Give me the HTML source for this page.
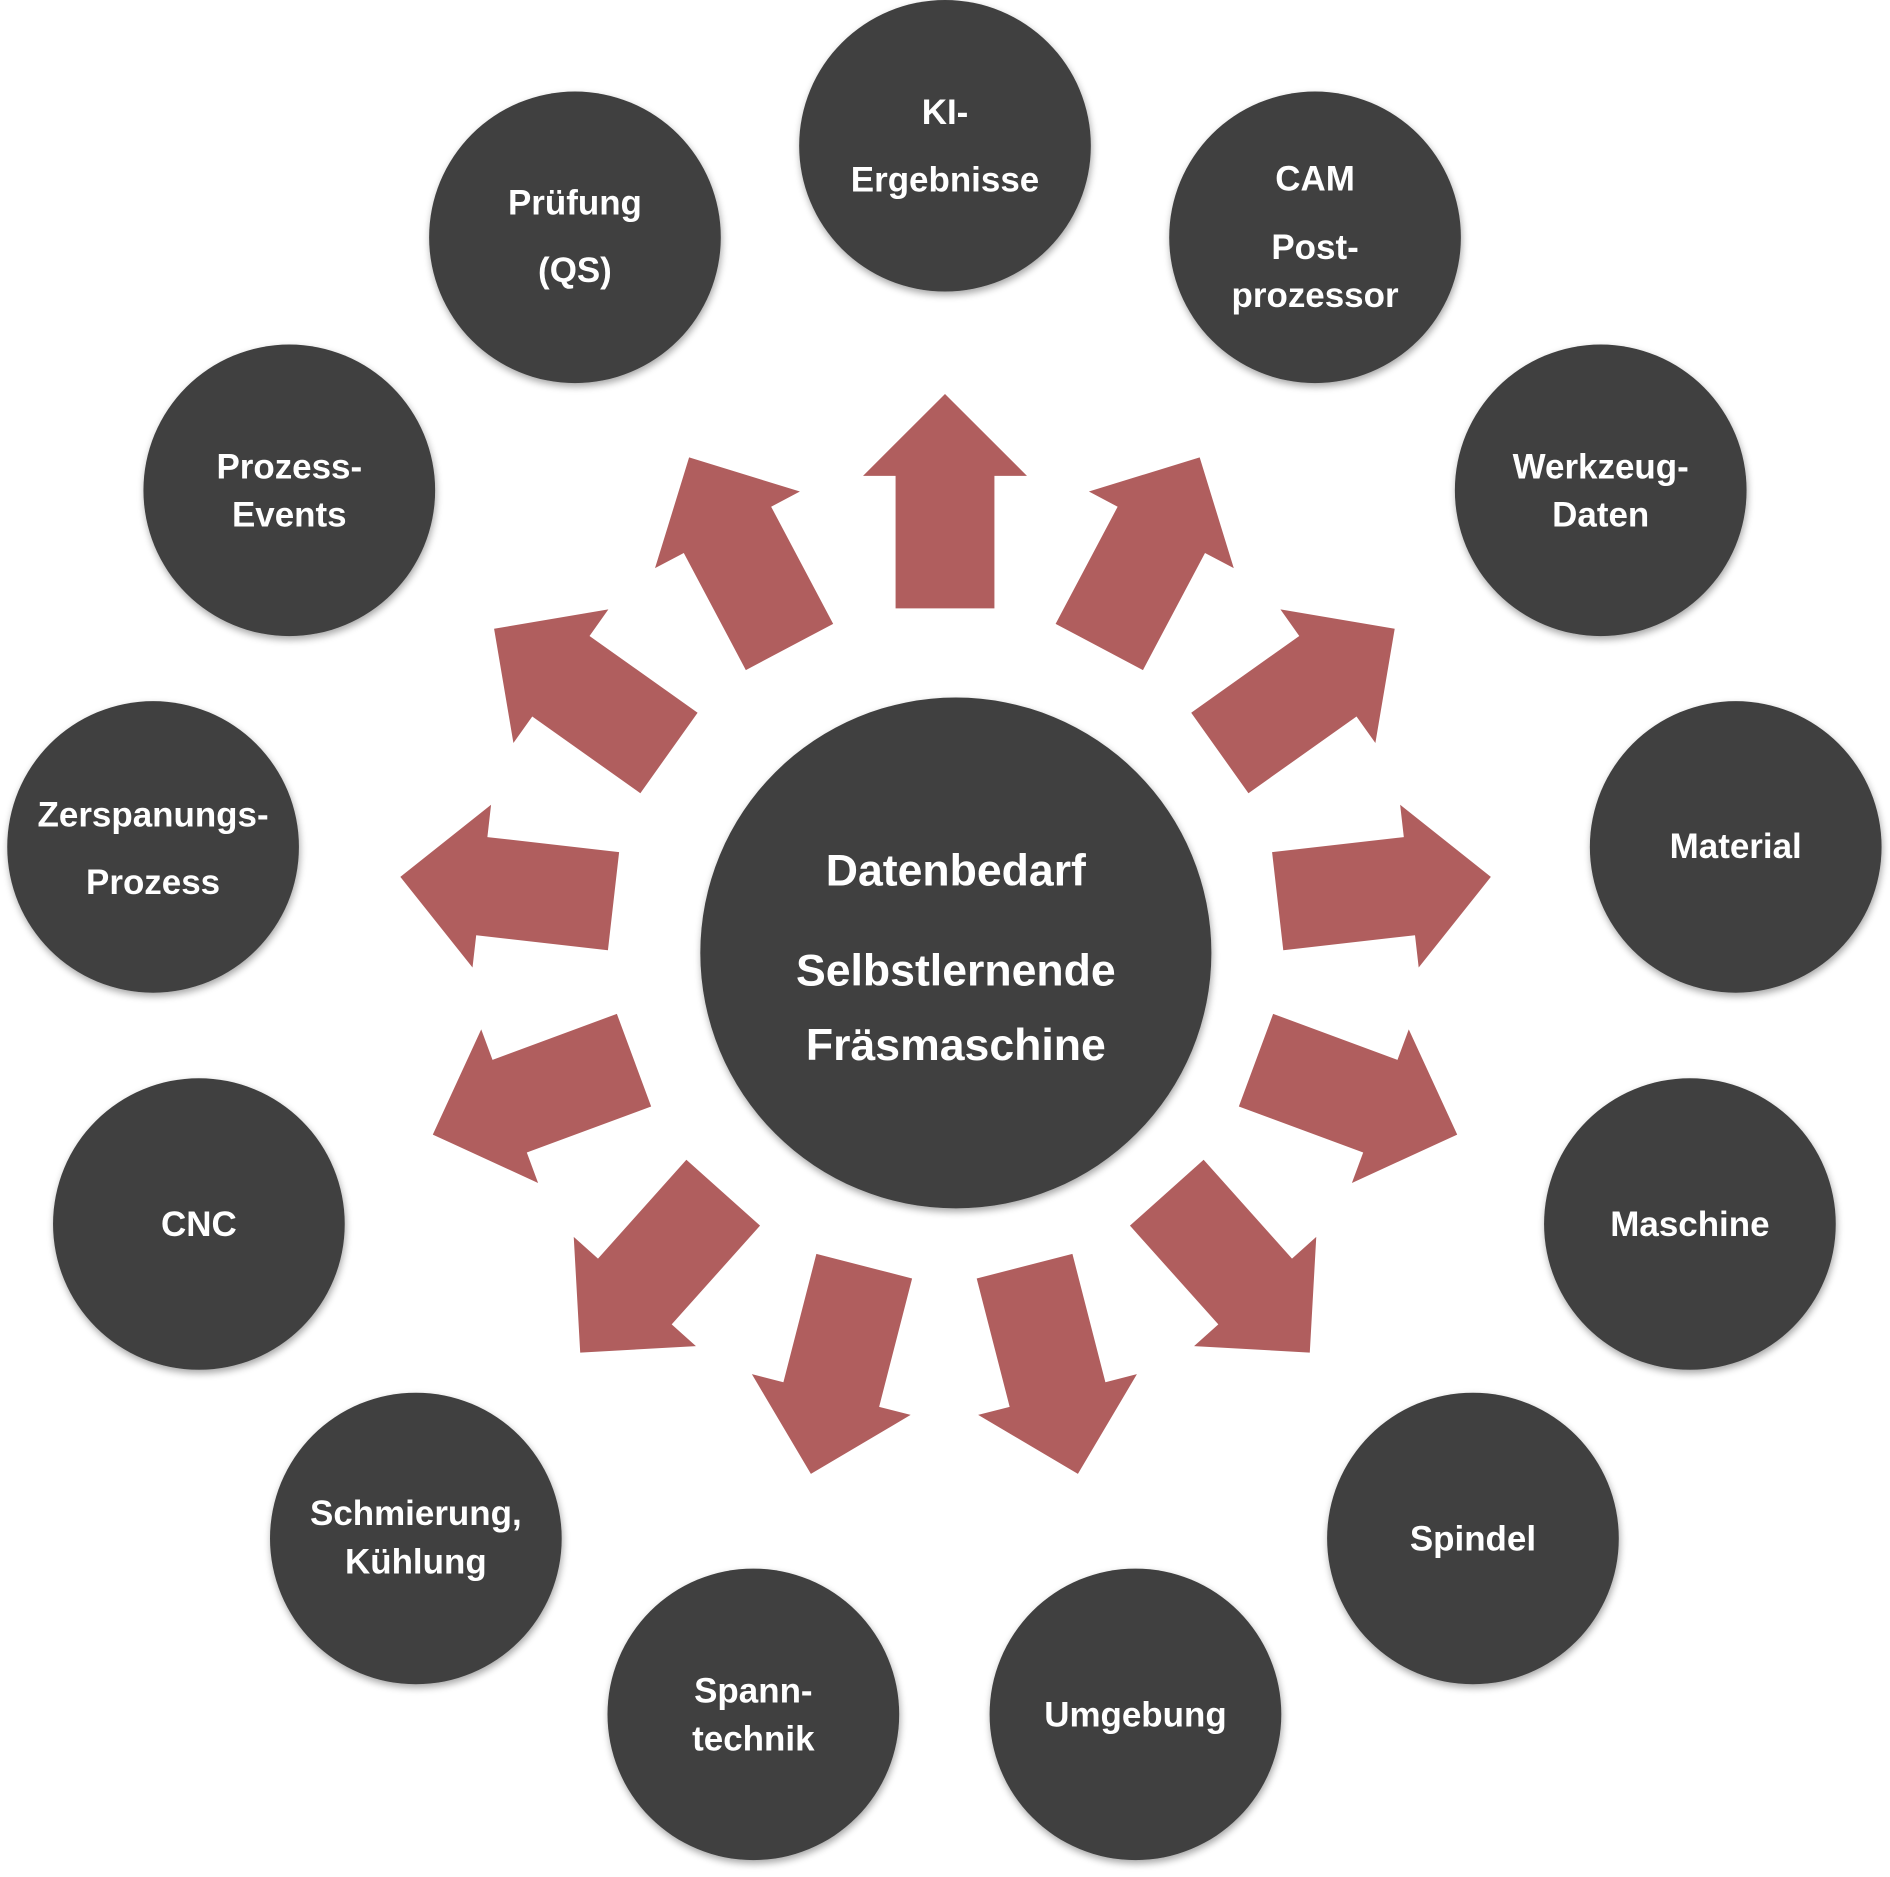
<!DOCTYPE html>
<html><head><meta charset="utf-8"><style>
html,body{margin:0;padding:0;background:#fff;}
svg{display:block;}
text{font-family:"Liberation Sans",sans-serif;font-weight:bold;fill:#fff;text-anchor:middle;}
</style></head><body>
<svg width="1890" height="1877" viewBox="0 0 1568 1558" preserveAspectRatio="none" xmlns="http://www.w3.org/2000/svg">
<defs>
<filter id="sh" x="-20%" y="-20%" width="140%" height="140%"><feGaussianBlur in="SourceAlpha" stdDeviation="3"/><feOffset dx="1" dy="3"/><feComponentTransfer><feFuncA type="linear" slope="0.35"/></feComponentTransfer><feMerge><feMergeNode/><feMergeNode in="SourceGraphic"/></feMerge></filter>
<polygon id="ar" points="0,-41 110,-41 110,-68 178,0 110,68 110,41 0,41" fill="#b05e5e"/>
</defs>
<g>
<use href="#ar" transform="translate(784,505) rotate(-90)"/>
<use href="#ar" transform="translate(655,537) rotate(-117.9)"/>
<use href="#ar" transform="translate(912,537) rotate(-62.1)"/>
<use href="#ar" transform="translate(555,625) rotate(-144.6)"/>
<use href="#ar" transform="translate(1012,625) rotate(-35.4)"/>
<use href="#ar" transform="translate(509,748) rotate(-173.5)"/>
<use href="#ar" transform="translate(1060,748) rotate(-6.5)"/>
<use href="#ar" transform="translate(526,880) rotate(159.7)"/>
<use href="#ar" transform="translate(1042,880) rotate(20.3)"/>
<use href="#ar" transform="translate(600,990) rotate(131.8)"/>
<use href="#ar" transform="translate(968,990) rotate(48.2)"/>
<use href="#ar" transform="translate(717,1051) rotate(104.4)"/>
<use href="#ar" transform="translate(850,1051) rotate(75.6)"/>
</g>
<g fill="#404040" filter="url(#sh)">
<circle cx="793" cy="791" r="212"/>
<circle cx="784" cy="121" r="121"/>
<circle cx="1091" cy="197" r="121"/>
<circle cx="477" cy="197" r="121"/>
<circle cx="1328" cy="407" r="121"/>
<circle cx="240" cy="407" r="121"/>
<circle cx="1440" cy="703" r="121"/>
<circle cx="127" cy="703" r="121"/>
<circle cx="1402" cy="1016" r="121"/>
<circle cx="165" cy="1016" r="121"/>
<circle cx="1222" cy="1277" r="121"/>
<circle cx="345" cy="1277" r="121"/>
<circle cx="942" cy="1423" r="121"/>
<circle cx="625" cy="1423" r="121"/>
</g>
<g font-size="29">
<text x="793" y="735" font-size="37">Datenbedarf</text>
<text x="793" y="818" font-size="37">Selbstlernende</text>
<text x="793" y="880" font-size="37">Fräsmaschine</text>
<text x="784" y="103">KI-</text>
<text x="784" y="159">Ergebnisse</text>
<text x="1091" y="158">CAM</text>
<text x="1091" y="215">Post-</text>
<text x="1091" y="255">prozessor</text>
<text x="477" y="178">Prüfung</text>
<text x="477" y="234">(QS)</text>
<text x="1328" y="397">Werkzeug-</text>
<text x="1328" y="437">Daten</text>
<text x="240" y="397">Prozess-</text>
<text x="240" y="437">Events</text>
<text x="1440" y="712">Material</text>
<text x="127" y="686">Zerspanungs-</text>
<text x="127" y="742">Prozess</text>
<text x="1402" y="1026">Maschine</text>
<text x="165" y="1026">CNC</text>
<text x="1222" y="1287">Spindel</text>
<text x="345" y="1266">Schmierung,</text>
<text x="345" y="1306">Kühlung</text>
<text x="942" y="1433">Umgebung</text>
<text x="625" y="1413">Spann-</text>
<text x="625" y="1453">technik</text>
</g>
</svg>
</body></html>
